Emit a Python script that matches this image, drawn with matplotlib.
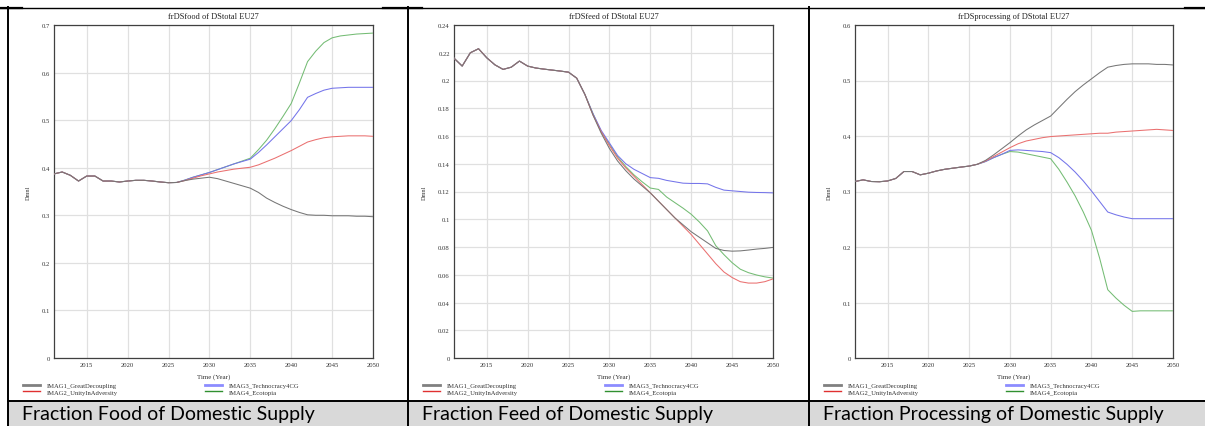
import matplotlib.pyplot as plt
from matplotlib.lines import Line2D
from matplotlib.patches import Rectangle

W, H = 1205, 427

years = list(range(2011, 2051))
scenarios = ['IMAG1_GreatDecoupling', 'IMAG2_UnityInAdversity',
             'IMAG3_Technocracy4CG', 'IMAG4_Ecotopia']

# food share, 2011-2026 common to all scenarios
food_common = [0.387, 0.391, 0.384, 0.372, 0.3825, 0.3825, 0.372, 0.372, 0.370, 0.372,
               0.3735, 0.3735, 0.372, 0.370, 0.3685, 0.369]
food_imag1 = [0.373, 0.376, 0.378, 0.380, 0.377, 0.372, 0.367, 0.362, 0.357, 0.348, 0.336, 0.327,
              0.319, 0.312, 0.306, 0.301, 0.300, 0.300, 0.299, 0.299, 0.299, 0.298, 0.298, 0.297]
food_imag2 = [0.373, 0.378, 0.383, 0.387, 0.391, 0.394, 0.397, 0.399, 0.401, 0.406, 0.413, 0.420,
              0.428, 0.436, 0.445, 0.454, 0.459, 0.463, 0.465, 0.466, 0.467, 0.467, 0.467, 0.466]
food_imag3 = [0.374, 0.380, 0.385, 0.390, 0.396, 0.402, 0.408, 0.413, 0.418, 0.432, 0.448, 0.465,
              0.482, 0.499, 0.522, 0.548, 0.556, 0.563, 0.567, 0.568, 0.569, 0.569, 0.569, 0.569]
food_imag4 = [0.374, 0.380, 0.385, 0.390, 0.396, 0.402, 0.408, 0.414, 0.420, 0.438, 0.458, 0.482,
              0.508, 0.535, 0.578, 0.623, 0.645, 0.663, 0.673, 0.677, 0.679, 0.681, 0.682, 0.683]

# feed share
feed_common = [0.2161, 0.2104, 0.2200, 0.2229, 0.2164, 0.2113, 0.2080, 0.2096, 0.2140, 0.2104,
               0.2090, 0.2082, 0.2075, 0.2068, 0.2060, 0.2017]
feed_imag1 = [0.190, 0.175, 0.162, 0.151, 0.142, 0.135, 0.129, 0.124, 0.119, 0.113, 0.107, 0.101,
              0.096, 0.091, 0.087, 0.083, 0.079, 0.0775, 0.077, 0.0772, 0.0778, 0.0785, 0.079, 0.0797]
feed_imag2 = [0.190, 0.175, 0.163, 0.153, 0.144, 0.137, 0.131, 0.125, 0.119, 0.113, 0.107, 0.101,
              0.095, 0.089, 0.082, 0.075, 0.068, 0.062, 0.058, 0.055, 0.054, 0.054, 0.055, 0.057]
feed_imag3 = [0.190, 0.176, 0.164, 0.155, 0.146, 0.140, 0.136, 0.133, 0.130, 0.1295, 0.128, 0.127,
              0.126, 0.1258, 0.1258, 0.1255, 0.123, 0.121, 0.1205, 0.120, 0.1195, 0.1193, 0.1192, 0.119]
feed_imag4 = [0.190, 0.176, 0.163, 0.154, 0.145, 0.138, 0.132, 0.127, 0.1225, 0.1215, 0.116, 0.112,
              0.108, 0.1036, 0.098, 0.0916, 0.081, 0.0745, 0.0687, 0.064, 0.0615, 0.0598, 0.0585, 0.0576]

# processing share
proc_common = [0.318, 0.321, 0.318, 0.3176, 0.319, 0.3235, 0.336, 0.336, 0.330, 0.333,
               0.337, 0.340, 0.342, 0.344, 0.3458, 0.349]
proc_imag1 = [0.356, 0.366, 0.377, 0.388, 0.400, 0.411, 0.420, 0.428, 0.436, 0.451, 0.466, 0.480,
              0.492, 0.503, 0.514, 0.524, 0.527, 0.529, 0.530, 0.530, 0.530, 0.529, 0.529, 0.528]
proc_imag2 = [0.355, 0.363, 0.371, 0.379, 0.386, 0.391, 0.394, 0.397, 0.399, 0.400, 0.401, 0.402,
              0.403, 0.404, 0.405, 0.405, 0.407, 0.408, 0.409, 0.410, 0.411, 0.412, 0.411, 0.410]
proc_imag3 = [0.354, 0.361, 0.367, 0.374, 0.375, 0.374, 0.373, 0.372, 0.370, 0.361, 0.349, 0.335,
              0.319, 0.301, 0.282, 0.263, 0.258, 0.254, 0.251, 0.251, 0.251, 0.251, 0.251, 0.251]
proc_imag4 = [0.354, 0.361, 0.367, 0.372, 0.371, 0.368, 0.365, 0.362, 0.359, 0.340, 0.317, 0.292,
              0.263, 0.230, 0.180, 0.123, 0.108, 0.095, 0.084, 0.085, 0.085, 0.085, 0.085, 0.085]

titles = ['frDSfood of DStotal EU27', 'frDSfeed of DStotal EU27', 'frDSprocessing of DStotal EU27']
captions = ['Fraction Food of Domestic Supply', 'Fraction Feed of Domestic Supply',
            'Fraction Processing of Domestic Supply']
yticks = [[0, 0.1, 0.2, 0.3, 0.4, 0.5, 0.6, 0.7],
          [0, 0.02, 0.04, 0.06, 0.08, 0.1, 0.12, 0.14, 0.16, 0.18, 0.2, 0.22, 0.24],
          [0, 0.1, 0.2, 0.3, 0.4, 0.5, 0.6]]
xticks = [2015, 2020, 2025, 2030, 2035, 2040, 2045, 2050]

panels = [
    (food_common, [food_imag1, food_imag2, food_imag3, food_imag4]),
    (feed_common, [feed_imag1, feed_imag2, feed_imag3, feed_imag4]),
    (proc_common, [proc_imag1, proc_imag2, proc_imag3, proc_imag4]),
]

line_colors = ['#767676', '#ea7070', '#7474ea', '#74bc74']
leg_colors = ['#808080', '#e03030', '#8c8cff', '#309030']
leg_widths = [2.0, 1.0, 2.0, 1.0]

# axes boxes in pixels: left, right, top, bottom
boxes = [(54, 373, 26, 359), (454, 773, 26, 359), (855, 1173, 26, 359)]
caption_x = [22, 422, 823]

serif = 'Liberation Serif'
fig = plt.figure(figsize=(W / 100, H / 100), dpi=100)

# table frame and caption band
fig.patches.append(Rectangle((8 / W, 0), 1 - 8 / W, (H - 402) / H, transform=fig.transFigure,
                             facecolor='#d9d9d9', edgecolor='none', zorder=0))
fig.add_artist(Line2D([0, 1], [1 - 8.5 / H] * 2, color='black', lw=1.0))
for x0, x1 in [(0, 22), (383, 422), (1185, 1205)]:
    fig.add_artist(Line2D([x0 / W, x1 / W], [1 - 9 / H] * 2, color='black', lw=1.6))
fig.add_artist(Line2D([8 / W, 1], [1 - 401.5 / H] * 2, color='black', lw=1.4))
for xv in [8, 408, 809]:
    fig.add_artist(Line2D([xv / W] * 2, [0, 1 - 8 / H], color='black', lw=1.4))

for i, (common, series) in enumerate(panels):
    l, r, t, b = boxes[i]
    ax = fig.add_axes([l / W, 1 - b / H, (r - l) / W, (b - t) / H])
    for k, s in enumerate(series):
        ax.plot(years, common + s, color=line_colors[k], lw=0.75, zorder=3 + (3 - k) * 0.1)
    ax.set_xlim(2011, 2050)
    ax.set_ylim(yticks[i][0], yticks[i][-1])
    ax.set_xticks(xticks)
    ax.set_yticks(yticks[i])
    ax.set_yticklabels([f'{v:g}' for v in yticks[i]])
    ax.grid(True, color='#e0e0e0', lw=0.9)
    ax.set_axisbelow(True)
    ax.tick_params(length=0, pad=3, labelsize=4.8, labelcolor='#333333')
    for lab in ax.get_xticklabels() + ax.get_yticklabels():
        lab.set_family(serif)
    for sp in ax.spines.values():
        sp.set_color('#404040')
        sp.set_linewidth(0.9)
    ax.set_title(titles[i], family=serif, fontsize=6, pad=5, color='#222222')
    ax.set_xlabel('Time (Year)', family=serif, fontsize=5, labelpad=4, color='#333333')
    ax.set_ylabel('Dmnl', family=serif, fontsize=4.5, labelpad=8, color='#333333')

    handles = [Line2D([], [], color=leg_colors[k], lw=leg_widths[k]) for k in range(4)]
    for col in range(2):
        hx = [l - 31, l + 151][col]
        leg = fig.legend(handles[col * 2:col * 2 + 2], scenarios[col * 2:col * 2 + 2],
                         loc='upper left', bbox_to_anchor=(hx / W, 1 - 383.5 / H),
                         frameon=False, ncol=1, handlelength=2.5, handletextpad=1.1,
                         labelspacing=0.12, borderpad=0, borderaxespad=0,
                         prop={'family': serif, 'size': 4.8})
        for txt in leg.get_texts():
            txt.set_color('#333333')

    fig.text(caption_x[i] / W, 1 - 415 / H, captions[i], family='Lato', fontsize=14,
             va='center', ha='left', color='black')

fig.savefig('out.png', dpi=100)
